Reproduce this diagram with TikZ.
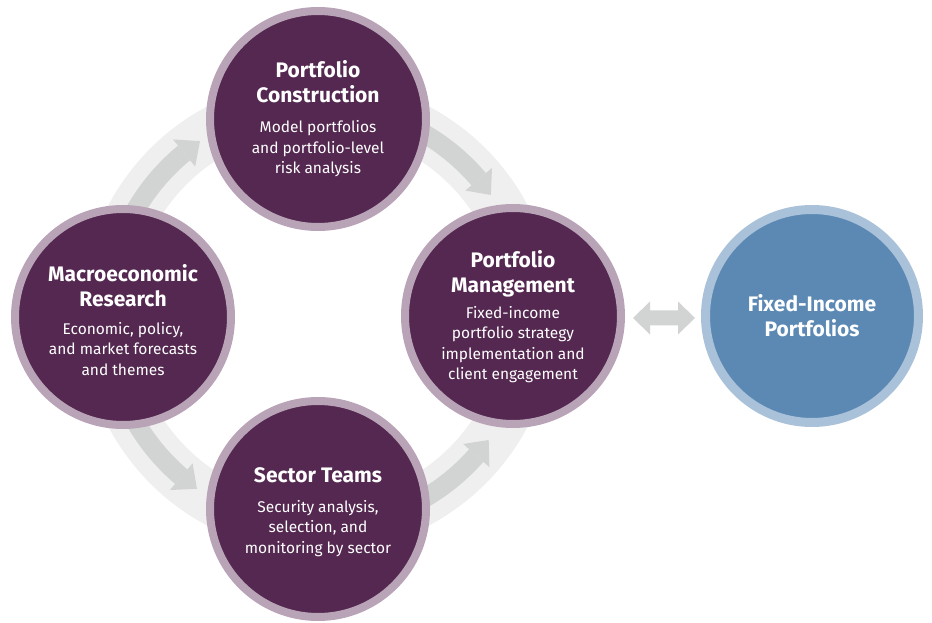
\documentclass[tikz,border=0pt]{standalone}
\usepackage{fontspec}
\setmainfont{Fira Sans}
\usetikzlibrary{calc}
\definecolor{purp}{RGB}{84,40,80}
\definecolor{purpring}{RGB}{185,163,183}
\definecolor{fiblue}{RGB}{92,137,180}
\definecolor{bluering}{RGB}{170,194,217}
\definecolor{bandgray}{RGB}{239,239,239}
\definecolor{arrowgray}{RGB}{210,212,211}
\newcommand{\ringarrow}[2]{%
  \pgfmathsetmacro{\rab}{#2+((#1)>(#2) ? 5.4 : -5.4)}%
  \draw[arrowshaft] ([shift={(#1:211)}]C) arc[start angle=#1, end angle=\rab, radius=211];
  \fill[arrowgray] ([shift={(\rab:193.5)}]C) -- ([shift={(#2:211)}]C) -- ([shift={(\rab:228.5)}]C) -- cycle;
}
\begin{document}
\begin{tikzpicture}[x=1pt,y=1pt,
  pcirc/.style={circle, fill=purp, draw=purpring, line width=8pt, minimum size=216pt, inner sep=0pt},
  bcirc/.style={circle, fill=fiblue, draw=bluering, line width=9pt, minimum size=213pt, inner sep=0pt},
  ttl/.style={text=white, font=\fontsize{21}{25}\selectfont\bfseries, align=center, inner sep=0pt, anchor=base},
  bdy/.style={text=white, font=\fontsize{15.5}{20.5}\selectfont, align=center, inner sep=0pt, anchor=base},
  band/.style={draw=bandgray, line width=51pt},
  arrowshaft/.style={draw=arrowgray, line width=19pt}]
\useasboundingbox (0,0) rectangle (932,622);
\fill[white] (0,0) rectangle (932,622);
\coordinate (C) at (318,306);
\draw[band] (C) circle[radius=211.5];
\ringarrow{160}{124}
\ringarrow{70}{35}
\ringarrow{200}{235}
\ringarrow{290}{324}
% circles
\node[pcirc] (pc) at (318,503) {};
\node[pcirc] (mr) at (123,305) {};
\node[pcirc] (pm) at (513,306) {};
\node[pcirc] (st) at (318,113) {};
\node[bcirc] (fi) at (812,306) {};
% double arrow
\coordinate (dl) at ([xshift=8pt,yshift=-2pt]pm.east);
\coordinate (dr) at ([xshift=-6pt,yshift=-2pt]fi.west);
\fill[arrowgray] (dl) -- ([shift={(17,16.5)}]dl) -- ([shift={(17,7.5)}]dl)
  -- ([shift={(-17,7.5)}]dr) -- ([shift={(-17,16.5)}]dr) -- (dr)
  -- ([shift={(-17,-16.5)}]dr) -- ([shift={(-17,-7.5)}]dr)
  -- ([shift={(17,-7.5)}]dl) -- ([shift={(17,-16.5)}]dl) -- cycle;
% texts (base = baseline of last line)
\node[ttl] (pcT) at (318,519) {Portfolio\\Construction};
\node[bdy] (pcB) at (318,448) {Model portfolios\\and portfolio-level\\risk analysis};
\node[ttl] (mrT) at (123,315) {Macroeconomic\\Research};
\node[bdy] (mrB) at (123,247) {Economic, policy,\\and market forecasts\\and themes};
\node[ttl] (pmT) at (513,329) {Portfolio\\Management};
\node[bdy] (pmB) at (513,242) {Fixed-income\\portfolio strategy\\implementation and\\client engagement};
\node[ttl] (stT) at (318,140) {Sector Teams};
\node[bdy] (stB) at (318,69) {Security analysis,\\selection, and\\monitoring by sector};
\node[ttl] (fiT) at (812,285) {Fixed-Income\\Portfolios};
\end{tikzpicture}
\end{document}
